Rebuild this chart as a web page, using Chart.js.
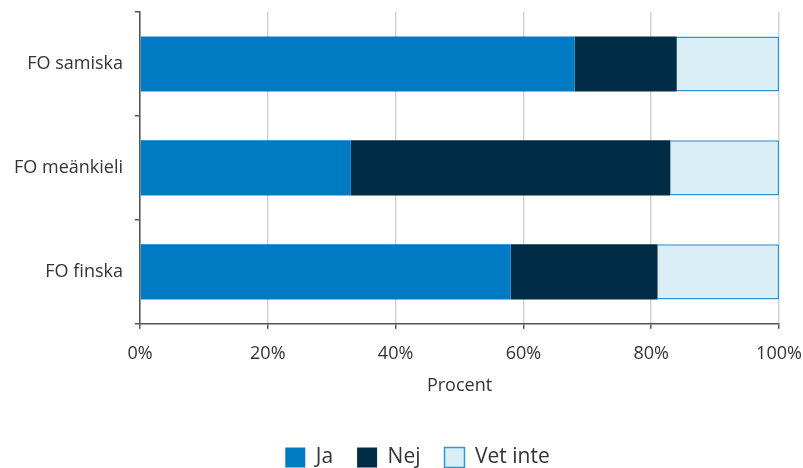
<!DOCTYPE html>
<html>
<head>
<meta charset="utf-8">
<script src="https://cdn.jsdelivr.net/npm/chart.js@4"></script>
<style>
  body { margin: 0; background: #fff; }
  #wrap { width: 803px; height: 468px; }
</style>
</head>
<body>
<div id="wrap"><canvas id="chart"></canvas></div>
<script>
const categories = ['FO samiska', 'FO meänkieli', 'FO finska'];
const ja = [68, 33, 58];
const nej = [16, 50, 23];
const vetInte = [16, 17, 19];
const xTicks = [0, 20, 40, 60, 80, 100];

Chart.defaults.font.family = "'Open Sans', sans-serif";
Chart.defaults.color = '#333';

// legend in the original sits a bit right of the canvas centre
const shiftLegend = {
    id: 'shiftLegend',
    afterLayout(chart) {
        chart.legend.left += 27;
        chart.legend.right += 27;
    }
};

const chart = new Chart(document.getElementById('chart'), {
    type: 'bar',
    data: {
        labels: categories,
        datasets: [
            {
                label: 'Ja',
                data: ja,
                backgroundColor: '#007ac2',
                borderColor: '#007ac2',
                borderWidth: 0
            },
            {
                label: 'Nej',
                data: nej,
                backgroundColor: '#002c46',
                borderColor: '#002c46',
                borderWidth: 0
            },
            {
                label: 'Vet inte',
                data: vetInte,
                backgroundColor: '#daeef6',
                borderColor: '#2f98d3',
                borderWidth: 1.5
            }
        ]
    },
    options: {
        indexAxis: 'y',
        responsive: true,
        maintainAspectRatio: false,
        animation: false,
        categoryPercentage: 0.53,
        barPercentage: 1,
        layout: {
            padding: { top: 12, right: 24, left: 2, bottom: -10 }
        },
        scales: {
            x: {
                stacked: true,
                min: 0,
                max: 100,
                afterBuildTicks: axis => {
                    axis.ticks = xTicks.map(v => ({ value: v }));
                },
                afterFit: axis => { axis.paddingRight = 0; axis.paddingLeft = 0; },
                ticks: {
                    callback: v => v + '%',
                    font: { size: 18 },
                    color: '#333',
                    padding: 14
                },
                grid: {
                    color: '#d4d4d4',
                    lineWidth: 1.5,
                    tickColor: '#555',
                    tickLength: 5
                },
                border: { color: '#555', width: 1.5 },
                title: {
                    display: true,
                    text: 'Procent',
                    font: { size: 18 },
                    color: '#333',
                    padding: { top: -3, bottom: 26 }
                }
            },
            y: {
                stacked: true,
                afterFit: axis => { axis.paddingTop = 0; axis.paddingBottom = 0; },
                ticks: {
                    font: { size: 18 },
                    color: '#333',
                    padding: 12
                },
                grid: {
                    offset: true,
                    drawOnChartArea: false,
                    tickColor: '#555',
                    tickLength: 5,
                    lineWidth: 1.5
                },
                border: { color: '#555', width: 1.5 }
            }
        },
        plugins: {
            legend: {
                position: 'bottom',
                labels: {
                    boxWidth: 20,
                    boxHeight: 20,
                    padding: 24,
                    font: { size: 21 },
                    color: '#333'
                }
            },
            tooltip: { enabled: false }
        }
    },
    plugins: [shiftLegend]
});
</script>
</body>
</html>
